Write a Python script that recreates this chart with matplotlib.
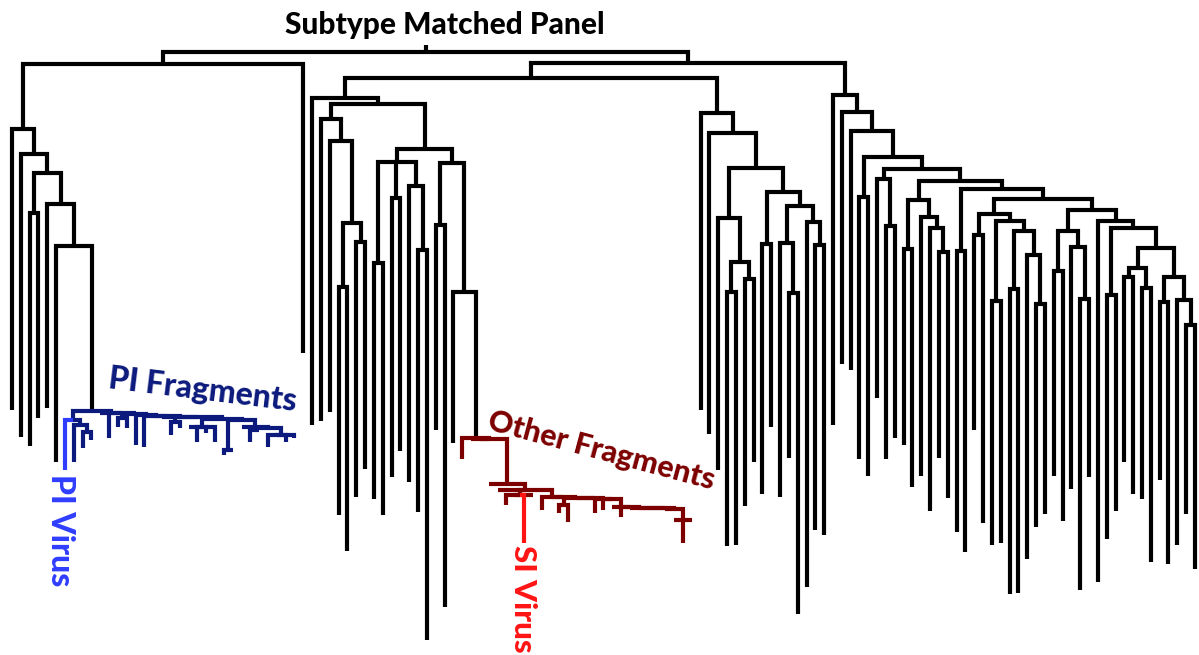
import matplotlib
matplotlib.use("Agg")
import matplotlib.pyplot as plt
from matplotlib.collections import LineCollection

# Tree notation: a leaf is its tip depth, an internal node is
# [node depth, child, child, ...]. Depth grows downward from the root.
# {"color": c, "tree": t} paints the branch of t and everything under it.

BLACK = "#000000"
PI_FRAG = "#0b1a7c"
PI_VIRUS = "#2f3dff"
OTHER_FRAG = "#7d0000"
SI_VIRUS = "#ff1414"


def tint(color, node):
    return {"color": color, "tree": node}


# --- PI fragment cluster: the virus plus a ladder of near-identical fragments
pi_left = [420, tint(PI_VIRUS, 470), [425, 462, [432, 448, 440]]]
pi_tail = [428, [430, 442, 430], [435, 447, 437, 442, 438]]
pi_tail = [427, 427, pi_tail]
pi_tail = [419.5, [450, 455, 450], pi_tail]
pi_tail = [419, [427, 427, 442, 433, 442], pi_tail]
pi_tail = [417, [422, 435, 428], pi_tail]
pi_tail = [416.5, 416.5, pi_tail]
pi_tail = [416, 416, pi_tail]
pi_tail = [416, 447, pi_tail]
pi_tail = [415, 445, pi_tail]
pi_tail = [413.5, [418, 427, 428], pi_tail]
pi_tail = [413, 438, pi_tail]
pi_right = [412.5, 412.5, pi_tail]
pi_fragments = [411, tint(PI_FRAG, pi_left), tint(PI_FRAG, pi_right)]

left_clade = [129, 410, [154, 437, [173, [213, 446, 418],
                                    [204, 408, [246, 462, pi_fragments]]]]]

# --- other fragment cluster with the SI virus ----------------------------
of_tail = [520, 520, 543, 520]
for depth, tip in [(508.6, 508.6), (508.3, 508.3), (508.0, 508.0),
                   (507.8, 507.8), (507.6, 507.6), (507.3, 517), (507.0, 507.0),
                   (499.0, 510), (498.6, 513), (498.3, 498.3), (498.0, 498.0)]:
    of_tail = [depth, tip, of_tail]
of_tail = [497.6, [505, 513, 522], of_tail]
of_tail = [497.3, 497.3, of_tail]
of_tail = [497, 510, of_tail]
of_si_group = [495, 505, 495, tint(SI_VIRUS, 543), 495]
other_body = [484, 484, [490, 490, of_si_group, of_tail]]
other_fragments = [438, tint(OTHER_FRAG, 459),
                   tint(OTHER_FRAG, [438.5, 438.5, 438.5, other_body])]

middle_clade = [98, 425,
                [104,
                 [119, 421, [141, 412, [223, [287, 515, 551], [242, 497, 469]]]],
                 [149,
                  [162, [263, 499, 515], [198, 477, 451], [186, 482, [250, 512, 640]]],
                  [163, [225, 430, 607], [292, 443, other_fragments]]]]]

right_mid = [113, 410, [133, 434, [168,
             [218, 470, [262, [292, 546, 545], [279, 506, 462]]],
             [192, [244, 494, 427],
              [206, [243, 497, [293, 458, 614]], [222, 587, [245, 530, 535]]]]]]]

right_clade = [95, 425, [112, 364, [131, 370, [157,
    [197, 459, 476],
    [169,
     [179, 398, [226, 459, 438]],
     [181,
      [200, [249, 445, 487], [217, 476, [228, 511, [252, 458, 498]]]],
      [189, [251, 532, 552],
       [199,
        [214, [235, 430, 523],
         [221, [301, 545, 543],
          [231, [289, 594, 593], [255, 559, [304, 527, 514]]]]],
        [210,
         [231, [271, 476, 521], [247, 489, [299, 590, 477]]],
         [221, 582,
          [228, [295, 539, 511],
           [248, [268, [277, 462, 494], [288, 499, 562]],
            [277, [302, 480, 564], [300, 545, [325, 514, 569]]]]]]]]]]]]]]]

panel_tree = [52, [64, left_clade, 353], [63, [78, middle_clade, right_mid], right_clade]]

TITLE = "Subtype Matched Panel"

# --- layout ----------------------------------------------------------------
_leaf_counter = [0]


def build(node, color):
    if isinstance(node, dict):
        return build(node["tree"], node["color"])
    if isinstance(node, (int, float)):
        x = _leaf_counter[0]
        _leaf_counter[0] += 1
        return {"x": x, "d": node, "c": color, "kids": []}
    kids = [build(ch, color) for ch in node[1:]]
    return {"x": (kids[0]["x"] + kids[-1]["x"]) / 2.0, "d": node[0],
            "c": color, "kids": kids}


root = build(panel_tree, BLACK)

segments = {}


def collect(node):
    for kid in node["kids"]:
        segments.setdefault(kid["c"], []).append(
            [(node["x"], node["d"]), (kid["x"], node["d"]), (kid["x"], kid["d"])])
        collect(kid)


collect(root)
segments[BLACK].append([(root["x"], root["d"]), (root["x"], root["d"] - 7)])

# --- drawing -----------------------------------------------------------------
fig = plt.figure(figsize=(11.99, 6.55), dpi=100)
ax = fig.add_axes([0, 0, 1, 1])
step = 8.828
ax.set_xlim(-12 / step, (1199 - 12) / step)
ax.set_ylim(655, 0)
ax.axis("off")

for color in [BLACK, PI_FRAG, OTHER_FRAG, PI_VIRUS, SI_VIRUS]:
    lc = LineCollection(segments.get(color, []), colors=color, linewidths=3.0,
                        capstyle="butt", joinstyle="miter")
    ax.add_collection(lc)


def px(x_pixel):
    return (x_pixel - 12) / step


font = dict(family="Lato", weight=900)
ax.text(px(445), 34, TITLE, ha="center", va="baseline", fontsize=21.5,
        color=BLACK, **font)
ax.text(px(203), 390, "PI Fragments", ha="center", va="center", rotation=-7,
        rotation_mode="anchor", fontsize=23, color=PI_FRAG, **font)
ax.text(px(601), 451, "Other Fragments", ha="center", va="center", rotation=-15,
        rotation_mode="anchor", fontsize=22, color=OTHER_FRAG, **font)
ax.text(px(60), 530, "PI Virus", ha="center", va="center", rotation=-90,
        rotation_mode="anchor", fontsize=23, color=PI_VIRUS, **font)
ax.text(px(523), 599, "SI Virus", ha="center", va="center", rotation=-90,
        rotation_mode="anchor", fontsize=22.5, color=SI_VIRUS, **font)

fig.savefig("out.png", dpi=100, facecolor="white")
